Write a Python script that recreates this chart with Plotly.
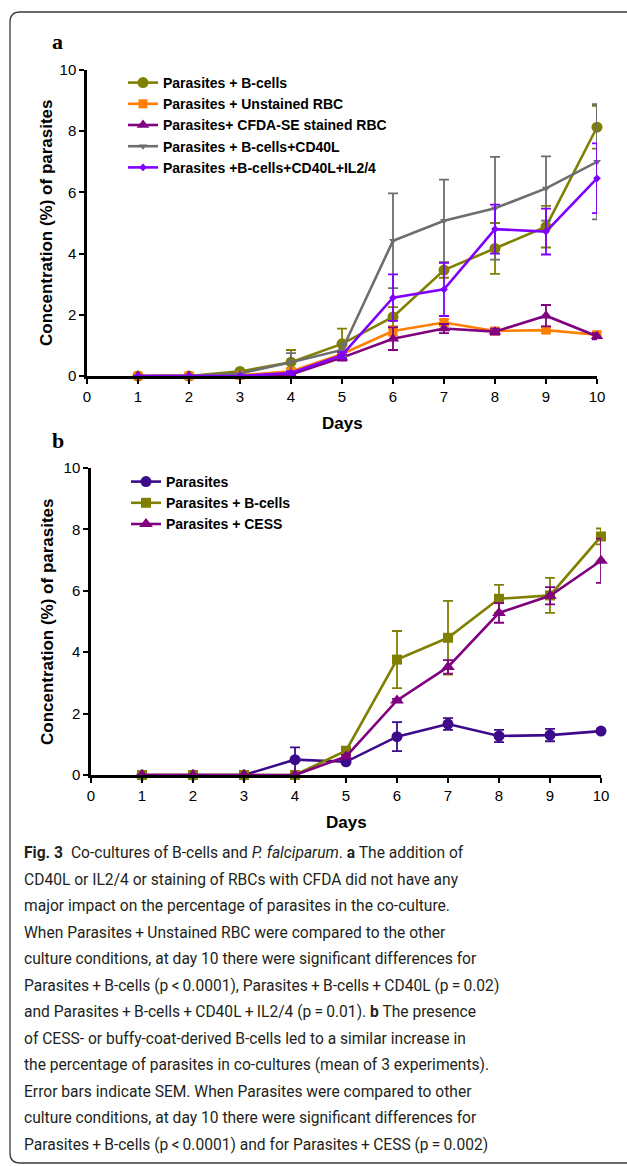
import plotly.graph_objects as go

W, H = 627, 1166

# ---------------- data ----------------
days = [1, 2, 3, 4, 5, 6, 7, 8, 9, 10]

# Panel a
a_names = ["Parasites + B-cells", "Parasites + Unstained RBC", "Parasites+ CFDA-SE stained RBC",
           "Parasites + B-cells+CD40L", "Parasites +B-cells+CD40L+IL2/4"]
a_bcells = [0, 0, 0.15, 0.45, 1.05, 1.93, 3.46, 4.17, 4.88, 8.13]
a_bcells_sem = [0, 0, 0.05, 0.40, 0.50, 0.32, 0.25, 0.83, 0.68, 0.70]
a_unstained = [0, 0, 0.02, 0.15, 0.72, 1.47, 1.75, 1.47, 1.50, 1.35]
a_unstained_sem = [0, 0, 0, 0.10, 0.10, 0.15, 0.10, 0.10, 0.10, 0.10]
a_cfda = [0, 0, 0, 0.05, 0.60, 1.22, 1.55, 1.45, 1.97, 1.30]
a_cfda_sem = [0, 0, 0, 0.05, 0.10, 0.37, 0.15, 0.10, 0.35, 0.10]
a_cd40l = [0, 0, 0.08, 0.45, 0.85, 4.42, 5.07, 5.48, 6.13, 7.00]
a_cd40l_sem = [0, 0, 0, 0.30, 0.20, 1.55, 1.35, 1.68, 1.05, 1.88]
a_il24 = [0, 0, 0, 0.10, 0.68, 2.56, 2.83, 4.80, 4.72, 6.46]
a_il24_sem = [0, 0, 0, 0.05, 0.10, 0.76, 0.87, 0.80, 0.75, 1.14]

# Panel b
b_names = ["Parasites", "Parasites + B-cells", "Parasites + CESS"]
b_parasites = [0, 0, 0, 0.50, 0.43, 1.25, 1.66, 1.27, 1.30, 1.43]
b_parasites_sem = [0, 0, 0, 0.40, 0.05, 0.47, 0.19, 0.20, 0.20, 0.05]
b_bcells = [0, 0, 0, 0, 0.79, 3.76, 4.47, 5.74, 5.85, 7.77]
b_bcells_sem = [0, 0, 0, 0, 0.05, 0.93, 1.20, 0.45, 0.57, 0.26]
b_cess = [0, 0, 0, 0, 0.60, 2.43, 3.52, 5.28, 5.84, 6.98]
b_cess_sem = [0, 0, 0, 0, 0.05, 0.05, 0.22, 0.32, 0.28, 0.72]

x_ticks = [0, 1, 2, 3, 4, 5, 6, 7, 8, 9, 10]
y_ticks = [0, 2, 4, 6, 8, 10]

caption_lines = [
    "<b>Fig. 3</b>\u2002Co-cultures of B-cells and <i>P. falciparum</i>. <b>a</b> The addition of",
    "CD40L or IL2/4 or staining of RBCs with CFDA did not have any",
    "major impact on the percentage of parasites in the co-culture.",
    "When Parasites\u2009+\u2009Unstained RBC were compared to the other",
    "culture conditions, at day 10 there were significant differences for",
    "Parasites\u2009+\u2009B-cells (p\u2009<\u20090.0001), Parasites\u2009+\u2009B-cells\u2009+\u2009CD40L (p\u2009=\u20090.02)",
    "and Parasites\u2009+\u2009B-cells\u2009+\u2009CD40L\u2009+\u2009IL2/4 (p\u2009=\u20090.01). <b>b</b> The presence",
    "of CESS- or buffy-coat-derived B-cells led to a similar increase in",
    "the percentage of parasites in co-cultures (mean of 3 experiments).",
    "Error bars indicate SEM. When Parasites were compared to other",
    "culture conditions, at day 10 there were significant differences for",
    "Parasites\u2009+\u2009B-cells (p\u2009<\u20090.0001) and for Parasites\u2009+\u2009CESS (p\u2009=\u20090.002)",
]

# ---------------- helpers ----------------
def px(x):
    return x / W


def py(y):
    return 1 - y / H


FONT = "Arial, Liberation Sans, sans-serif"

fig = go.Figure()


def add_series(x, y, sem, name, color, symbol, size, xa, ya, legend):
    fig.add_trace(go.Scatter(
        x=x, y=y, name=name, mode="lines+markers",
        line=dict(color=color, width=2.6),
        marker=dict(color=color, symbol=symbol, size=size, line=dict(width=0)),
        error_y=dict(type="data", array=sem, visible=True, color=color, thickness=1.8, width=5),
        xaxis=xa, yaxis=ya, legend=legend, cliponaxis=False,
    ))


OLIVE = "#808000"
ORANGE = "#FF8000"
PURPLE = "#800080"
GRAY = "#6E6E6E"
VIOLET = "#8000FF"
INDIGO = "#3D0A8C"

add_series(days, a_bcells, a_bcells_sem, a_names[0], OLIVE, "circle", 11, "x", "y", "legend")
add_series(days, a_unstained, a_unstained_sem, a_names[1], ORANGE, "square", 9, "x", "y", "legend")
add_series(days, a_cfda, a_cfda_sem, a_names[2], PURPLE, "triangle-up", 11, "x", "y", "legend")
add_series(days, a_cd40l, a_cd40l_sem, a_names[3], GRAY, "triangle-down", 7, "x", "y", "legend")
add_series(days, a_il24, a_il24_sem, a_names[4], VIOLET, "diamond", 6, "x", "y", "legend")

add_series(days, b_parasites, b_parasites_sem, b_names[0], INDIGO, "circle", 11, "x2", "y2", "legend2")
add_series(days, b_bcells, b_bcells_sem, b_names[1], OLIVE, "square", 10, "x2", "y2", "legend2")
add_series(days, b_cess, b_cess_sem, b_names[2], PURPLE, "triangle-up", 12, "x2", "y2", "legend2")

axis_common = dict(
    showline=True, linecolor="black", linewidth=2.5, ticks="outside", ticklen=5,
    tickwidth=2, tickcolor="black", showgrid=False, zeroline=False, automargin=False,
    tickfont=dict(family=FONT, size=15, color="black"),
)

fig.update_layout(
    width=W, height=H,
    margin=dict(l=0, r=0, t=0, b=0, autoexpand=False),
    paper_bgcolor="white", plot_bgcolor="white",
    xaxis=dict(domain=[px(87), px(597)], range=[0, 10], tickvals=x_ticks, anchor="y", **axis_common),
    yaxis=dict(domain=[py(376), py(70)], range=[0, 10], tickvals=y_ticks, anchor="x", **axis_common),
    xaxis2=dict(domain=[px(91), px(601)], range=[0, 10], tickvals=x_ticks, anchor="y2", **axis_common),
    yaxis2=dict(domain=[py(775), py(468)], range=[0, 10], tickvals=y_ticks, anchor="x2", **axis_common),
    legend=dict(x=px(123), y=py(67), xanchor="left", yanchor="top", bgcolor="rgba(0,0,0,0)",
                font=dict(family=FONT, size=14, color="black", weight="bold"),
                tracegroupgap=0, itemsizing="trace"),
    legend2=dict(x=px(126), y=py(466), xanchor="left", yanchor="top", bgcolor="rgba(0,0,0,0)",
                 font=dict(family=FONT, size=14, color="black", weight="bold"),
                 tracegroupgap=0, itemsizing="trace"),
    showlegend=True,
)

annotations = []
# panel letters
annotations.append(dict(text="<b>a</b>", x=px(50), y=py(42), xref="paper", yref="paper",
                        xanchor="left", yanchor="middle", showarrow=False,
                        font=dict(family="Liberation Serif, Times New Roman, serif", size=22, color="black")))
annotations.append(dict(text="<b>b</b>", x=px(50), y=py(440), xref="paper", yref="paper",
                        xanchor="left", yanchor="middle", showarrow=False,
                        font=dict(family="Liberation Serif, Times New Roman, serif", size=22, color="black")))
# axis titles
for cy in (223, 622):
    annotations.append(dict(text="<b>Concentration (%) of parasites</b>", x=px(47), y=py(cy),
                            xref="paper", yref="paper", xanchor="center", yanchor="middle",
                            textangle=-90, showarrow=False,
                            font=dict(family=FONT, size=17, color="black")))
annotations.append(dict(text="<b>Days</b>", x=px(342), y=py(423), xref="paper", yref="paper",
                        xanchor="center", yanchor="middle", showarrow=False,
                        font=dict(family=FONT, size=17, color="black")))
annotations.append(dict(text="<b>Days</b>", x=px(346), y=py(822), xref="paper", yref="paper",
                        xanchor="center", yanchor="middle", showarrow=False,
                        font=dict(family=FONT, size=17, color="black")))
# caption
for i, line in enumerate(caption_lines):
    annotations.append(dict(text=line, x=px(22), y=py(853 + i * 26.5), xref="paper", yref="paper",
                            xanchor="left", yanchor="middle", showarrow=False,
                            font=dict(family="Roboto, sans-serif", size=15.6, color="#231F20")))
fig.update_layout(annotations=annotations)

# frame
r = 10
path = (f"M {px(660)},{py(12)} L {px(10 + r)},{py(12)} Q {px(10)},{py(12)} {px(10)},{py(12 + r)} "
        f"L {px(10)},{py(1163 - r)} Q {px(10)},{py(1163)} {px(10 + r)},{py(1163)} L {px(660)},{py(1163)}")
fig.add_shape(type="path", path=path, xref="paper", yref="paper",
              line=dict(color="#3a3a3a", width=1.3))

fig.write_html("out.html", config={"displayModeBar": False},
               post_script="document.body.style.margin='0px';document.body.style.overflow='hidden';")
